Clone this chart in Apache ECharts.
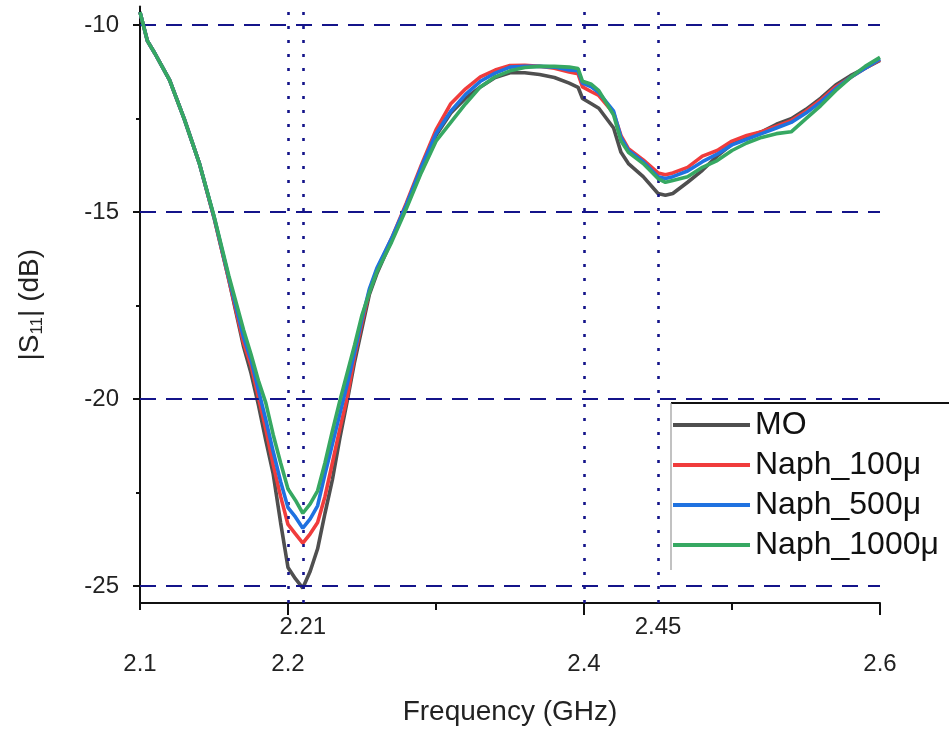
<!DOCTYPE html>
<html>
<head>
<meta charset="utf-8">
<script src="https://cdn.jsdelivr.net/npm/echarts@6/dist/echarts.min.js"></script>
<style>
html,body{margin:0;padding:0;background:#fff;}
#chart{width:949px;height:731px;}
</style>
</head>
<body>
<div id="chart"></div>
<script>
const freq = [2.100, 2.105, 2.110, 2.120, 2.130, 2.140, 2.150, 2.160, 2.170, 2.175, 2.180, 2.185, 2.190, 2.195, 2.200, 2.205, 2.210, 2.215, 2.220, 2.225, 2.230, 2.235, 2.240, 2.245, 2.250, 2.255, 2.260, 2.270, 2.280, 2.290, 2.300, 2.310, 2.320, 2.330, 2.340, 2.350, 2.360, 2.370, 2.380, 2.390, 2.396, 2.399, 2.405, 2.410, 2.420, 2.425, 2.430, 2.440, 2.450, 2.455, 2.460, 2.470, 2.480, 2.490, 2.500, 2.510, 2.520, 2.530, 2.540, 2.550, 2.560, 2.570, 2.580, 2.590, 2.600];

const moValues = [-9.65, -10.42, -10.75, -11.47, -12.52, -13.68, -15.14, -16.8, -18.6, -19.3, -20.15, -21.1, -22.0, -23.3, -24.5, -24.8, -25.05, -24.6, -24.0, -23.05, -22.15, -21.05, -20.05, -19.0, -18.1, -17.2, -16.65, -15.75, -14.85, -13.9, -12.95, -12.35, -11.95, -11.65, -11.4, -11.27, -11.27, -11.32, -11.4, -11.55, -11.66, -11.96, -12.1, -12.22, -12.75, -13.4, -13.7, -14.05, -14.5, -14.55, -14.5, -14.2, -13.88, -13.5, -13.18, -13.0, -12.85, -12.65, -12.5, -12.25, -11.95, -11.6, -11.35, -11.15, -10.94];

const naph100Values = [-9.65, -10.42, -10.75, -11.47, -12.52, -13.68, -15.14, -16.8, -18.5, -19.1, -19.95, -20.8, -21.75, -22.6, -23.35, -23.6, -23.85, -23.6, -23.3, -22.6, -21.7, -20.8, -19.95, -18.85, -17.95, -17.1, -16.55, -15.7, -14.75, -13.75, -12.8, -12.1, -11.7, -11.38, -11.2, -11.08, -11.07, -11.1, -11.15, -11.25, -11.3, -11.65, -11.78, -11.88, -12.35, -12.95, -13.3, -13.6, -13.95, -14.0, -13.95, -13.8, -13.5, -13.35, -13.1, -12.95, -12.85, -12.7, -12.55, -12.3, -12.0, -11.65, -11.4, -11.15, -10.92];

const naph500Values = [-9.65, -10.42, -10.75, -11.47, -12.52, -13.68, -15.12, -16.75, -18.35, -18.95, -19.75, -20.55, -21.4, -22.2, -22.9, -23.15, -23.45, -23.2, -22.85, -22.0, -21.2, -20.4, -19.6, -18.75, -17.85, -17.05, -16.5, -15.7, -14.8, -13.8, -12.9, -12.3, -11.85, -11.5, -11.28, -11.12, -11.1, -11.1, -11.12, -11.2, -11.22, -11.55, -11.65, -11.8, -12.3, -13.0, -13.35, -13.65, -14.05, -14.1, -14.05, -13.9, -13.65, -13.45, -13.2, -13.05, -12.9, -12.75, -12.6, -12.35, -12.05, -11.7, -11.4, -11.15, -10.9];

const naph1000Values = [-9.65, -10.42, -10.75, -11.47, -12.52, -13.68, -15.1, -16.7, -18.15, -18.8, -19.5, -20.1, -20.95, -21.7, -22.4, -22.7, -23.05, -22.8, -22.45, -21.7, -20.85, -20.05, -19.3, -18.55, -17.75, -17.15, -16.6, -15.8, -14.9, -13.95, -13.1, -12.6, -12.1, -11.65, -11.38, -11.22, -11.13, -11.1, -11.1, -11.12, -11.16, -11.5, -11.58, -11.75, -12.4, -13.1, -13.4, -13.7, -14.1, -14.2, -14.15, -14.05, -13.8, -13.62, -13.35, -13.15, -13.0, -12.9, -12.85, -12.5, -12.15, -11.75, -11.4, -11.1, -10.86];

const seriesNames = ['MO', 'Naph_100\u03bc', 'Naph_500\u03bc', 'Naph_1000\u03bc'];
const seriesColors = ['#4f4f4f', '#f03c3c', '#1f72e0', '#36a862'];

const xMajorLabels = [2.1, 2.2, 2.4, 2.6];
const xMarkedLabels = [2.21, 2.45];
const xLongTicks = [2.2, 2.4, 2.6];
const xShortTicks = [2.1, 2.3, 2.5];
const yMajorTicks = [-25, -20, -15, -10];
const yMinorTicks = [-22.5, -17.5, -12.5];
const hGuides = [-10, -15, -20, -25];
const vGuides = [2.2, 2.21, 2.4, 2.45];

const FONT = 'Liberation Sans, Arial, sans-serif';
const navy = '#14148a';

function pairs(vals) { return freq.map((f, i) => [f, vals[i]]); }
const allValues = [moValues, naph100Values, naph500Values, naph1000Values];

const chart = echarts.init(document.getElementById('chart'));

const series = [{
  type: 'line',
  name: '_guides',
  data: [],
  z: 1,
  silent: true,
  markLine: {
    silent: true,
    symbol: ['none', 'none'],
    animation: false,
    label: { show: false },
    emphasis: { disabled: true },
    data: hGuides.map(v => ({ yAxis: v, lineStyle: { type: [16, 10], color: navy, width: 2.2 } }))
      .concat(vGuides.map(v => ({ xAxis: v, lineStyle: { type: [3, 11], color: navy, width: 2.6 } })))
  }
}];
allValues.forEach((vals, i) => {
  series.push({
    type: 'line',
    name: seriesNames[i],
    data: pairs(vals),
    symbol: 'none',
    z: 3 + i,
    color: seriesColors[i],
    itemStyle: { color: seriesColors[i] },
    lineStyle: { width: 3.6, color: seriesColors[i] },
    animation: false
  });
});

chart.setOption({
  backgroundColor: '#ffffff',
  animation: false,
  textStyle: { fontFamily: FONT },
  grid: { left: 140, right: 69, top: 6.5, bottom: 128, containLabel: false },
  legend: {
    data: seriesNames.map(n => ({ name: n, icon: 'rect' })),
    orient: 'vertical',
    left: 668,
    top: 404,
    padding: 5,
    itemWidth: 77,
    itemHeight: 4,
    itemGap: 8,
    textStyle: { fontSize: 32, color: '#111', fontFamily: FONT }
  },
  graphic: [
    { type: 'line', shape: { x1: 671, y1: 403, x2: 949, y2: 403 }, style: { stroke: '#111', lineWidth: 1.8 } },
    { type: 'line', shape: { x1: 671, y1: 403, x2: 671, y2: 570 }, style: { stroke: '#999', lineWidth: 1.2 } }
  ],
  xAxis: [{
    type: 'value',
    min: 2.1,
    max: 2.6,
    position: 'bottom',
    name: 'Frequency (GHz)',
    nameLocation: 'middle',
    nameGap: 95,
    nameTextStyle: { fontSize: 28, color: '#222', fontFamily: FONT },
    axisLine: { onZero: false, lineStyle: { color: '#111', width: 2 } },
    axisTick: { show: true, customValues: xLongTicks, length: 12, lineStyle: { color: '#111', width: 2 } },
    axisLabel: { customValues: xMajorLabels, margin: 49, fontSize: 24, color: '#222', formatter: v => String(+v.toFixed(2)) },
    splitLine: { show: false }
  }, {
    type: 'value',
    min: 2.1,
    max: 2.6,
    position: 'bottom',
    axisLine: { show: false, onZero: false },
    axisTick: { show: true, customValues: xShortTicks, length: 7, lineStyle: { color: '#111', width: 2 } },
    axisLabel: { customValues: xMarkedLabels, margin: 12, fontSize: 24, color: '#222', formatter: v => String(+v.toFixed(2)) },
    splitLine: { show: false }
  }],
  yAxis: [{
    type: 'value',
    min: -25.45,
    max: -9.5,
    position: 'left',
    name: '|S{sub|11}| (dB)',
    nameLocation: 'middle',
    nameGap: 94,
    nameRotate: 90,
    nameTextStyle: {
      fontSize: 28, color: '#222', fontFamily: FONT,
      rich: { sub: { fontSize: 17, color: '#222', fontFamily: FONT, padding: [14, 0, 0, 0] } }
    },
    axisLine: { onZero: false, lineStyle: { color: '#111', width: 2 } },
    axisTick: { show: true, customValues: yMajorTicks, length: 7, lineStyle: { color: '#111', width: 2 } },
    axisLabel: { customValues: yMajorTicks, margin: 21, fontSize: 24, color: '#222' },
    splitLine: { show: false }
  }, {
    type: 'value',
    min: -25.45,
    max: -9.5,
    position: 'left',
    axisLine: { show: false, onZero: false },
    axisTick: { show: true, customValues: yMinorTicks, length: 4, lineStyle: { color: '#111', width: 2 } },
    axisLabel: { show: false },
    splitLine: { show: false }
  }],
  series: series
});
</script>
</body>
</html>
